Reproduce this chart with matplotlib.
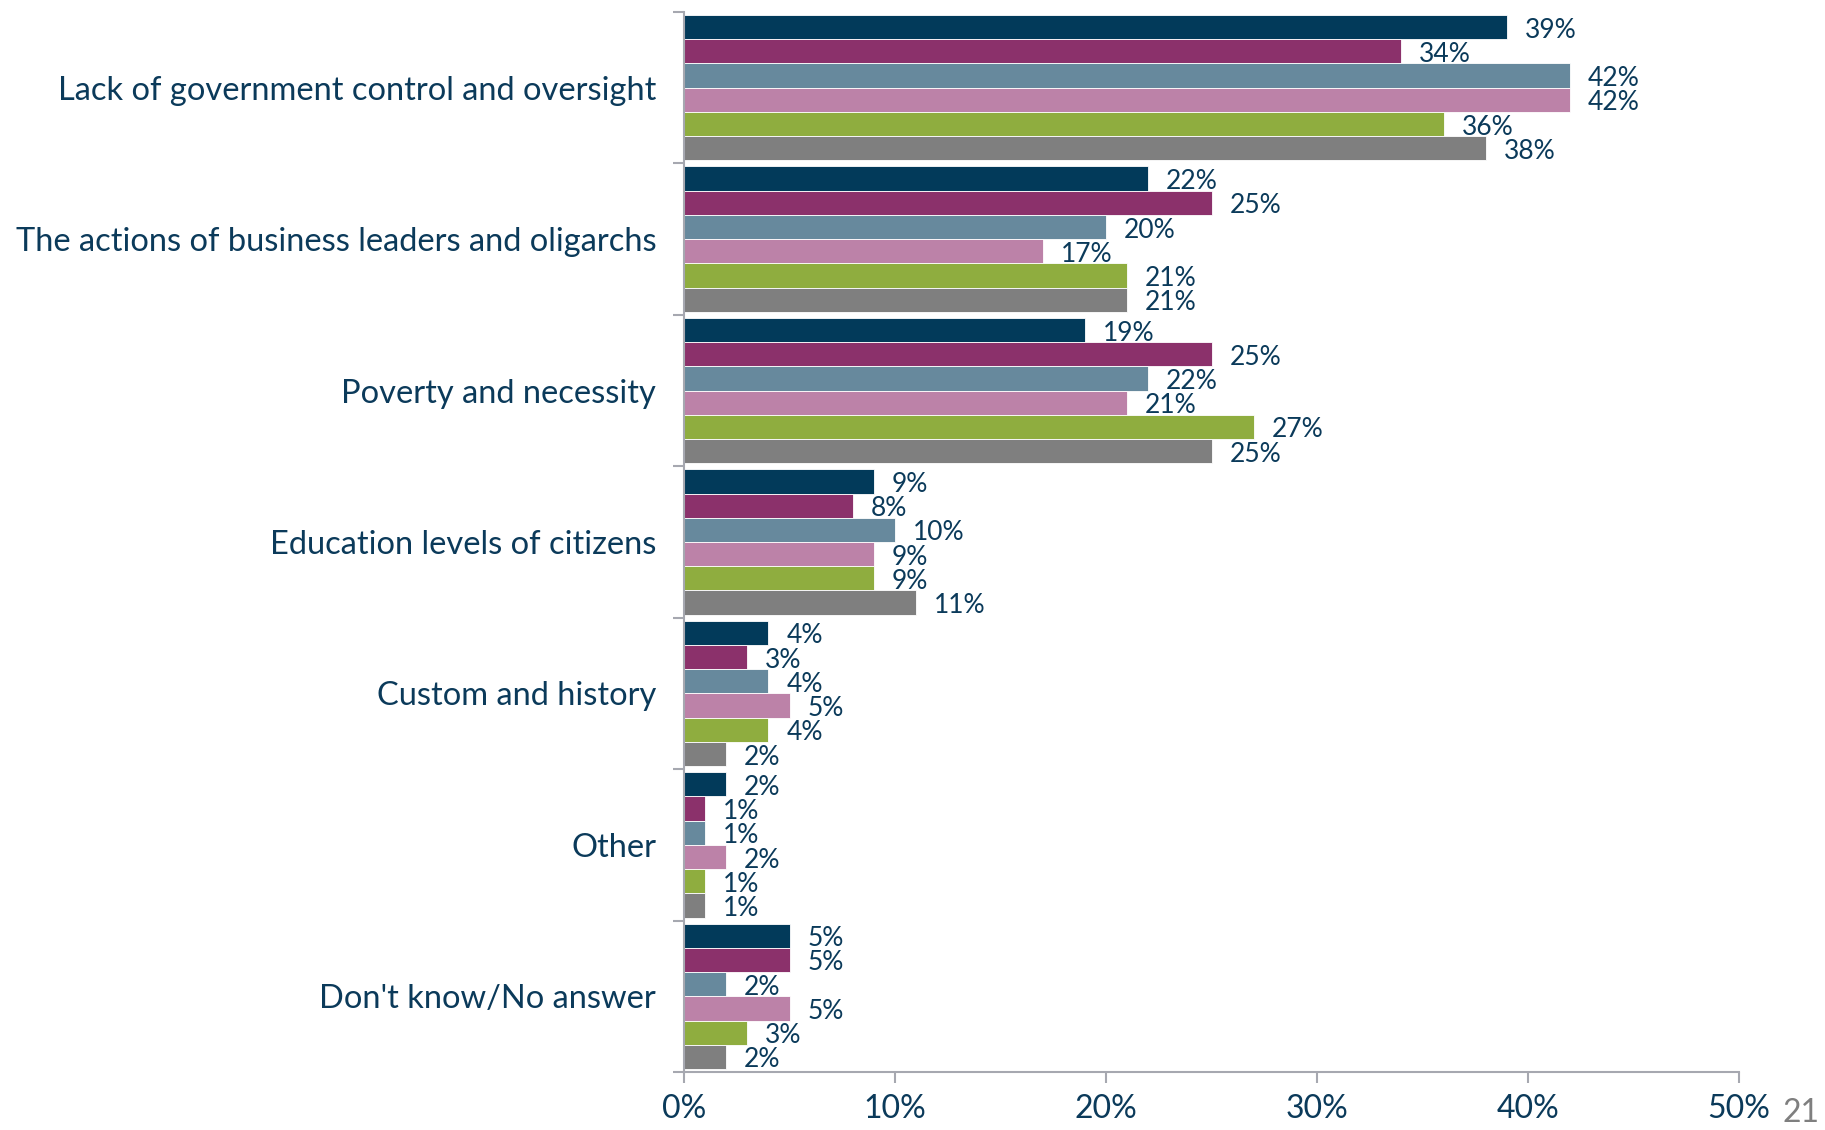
import matplotlib
matplotlib.use("Agg")
import matplotlib.pyplot as plt
import numpy as np

# --- data ---
categories = [
    "Lack of government control and oversight",
    "The actions of business leaders and oligarchs",
    "Poverty and necessity",
    "Education levels of citizens",
    "Custom and history",
    "Other",
    "Don't know/No answer",
]
series_1 = [39, 22, 19, 9, 4, 2, 5]
series_2 = [34, 25, 25, 8, 3, 1, 5]
series_3 = [42, 20, 22, 10, 4, 1, 2]
series_4 = [42, 17, 21, 9, 5, 2, 5]
series_5 = [36, 21, 27, 9, 4, 1, 3]
series_6 = [38, 21, 25, 11, 2, 1, 2]
x_ticks = [0, 10, 20, 30, 40, 50]
x_tick_labels = ["0%", "10%", "20%", "30%", "40%", "50%"]

all_series = [series_1, series_2, series_3, series_4, series_5, series_6]
colors = ["#023a5a", "#8b316b", "#67899d", "#bc82a8", "#8fad3f", "#7f7f7f"]

navy = "#0b3a5a"
axis_grey = "#a6a8b0"
plt.rcParams['font.family'] = ['Lato', 'DejaVu Sans']

fig = plt.figure(figsize=(18.25, 11.3), dpi=100)
ax = fig.add_axes([0.3748, 0.0513, 0.5781, 0.9381])

bar_h = 0.16
group_pos = np.arange(len(categories))
for j, (vals, col) in enumerate(zip(all_series, colors)):
    y = group_pos - 0.5 + 0.02 + bar_h * (j + 0.5)
    ax.barh(y, vals, height=bar_h, color=col, edgecolor="white", linewidth=0.6)
    for yy, v in zip(y, vals):
        ax.text(v + 0.85, yy + 0.02, f"{v}%", va="center", ha="left",
                fontsize=19, color=navy)

ax.set_ylim(len(categories) - 0.5, -0.5)
ax.set_xlim(0, 50)

# category boundaries as y ticks, labels at centres
ax.set_yticks(np.arange(len(categories) + 1) - 0.5)
ax.set_yticklabels([])
ax.set_yticks(group_pos, minor=True)
ax.set_yticklabels(categories, minor=True, fontsize=23.5, color=navy)
ax.tick_params(axis="y", which="minor", length=0, pad=20)
ax.tick_params(axis="y", which="major", length=8, width=1.5, color=axis_grey)

ax.set_xticks(x_ticks)
ax.set_xticklabels(x_tick_labels, fontsize=23, color=navy)
ax.tick_params(axis="x", length=8, width=1.5, color=axis_grey, pad=8)

for side in ["top", "right"]:
    ax.spines[side].set_visible(False)
for side in ["left", "bottom"]:
    ax.spines[side].set_color(axis_grey)
    ax.spines[side].set_linewidth(1.5)

# page number
fig.text(0.997, 0.002, "21", fontsize=23, color="#7f7f7f", ha="right", va="bottom")

fig.savefig("out.png", dpi=100)
